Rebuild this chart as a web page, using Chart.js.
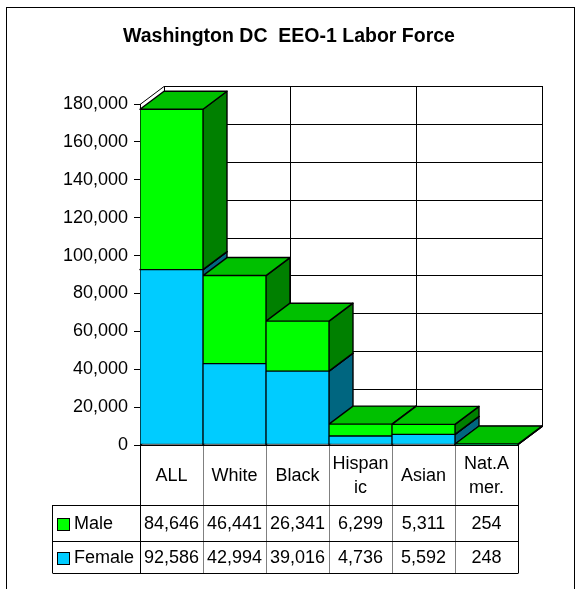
<!DOCTYPE html>
<html>
<head>
<meta charset="utf-8">
<script src="https://cdn.jsdelivr.net/npm/chart.js@4.4.1/dist/chart.umd.min.js"></script>
<style>
  html, body { margin: 0; padding: 0; background: #fff; }
</style>
</head>
<body>
<canvas id="chart" width="580" height="589"></canvas>
<script>
// EEO-1 labor force, Washington DC
const categories = [['ALL'], ['White'], ['Black'], ['Hispan', 'ic'], ['Asian'], ['Nat.A', 'mer.']];
const maleValues = [84646, 46441, 26341, 6299, 5311, 254];
const femaleValues = [92586, 42994, 39016, 4736, 5592, 248];
const seriesNames = ['Male', 'Female'];
const yMax = 180000;
const yStep = 20000;

const frontColors = { Male: '#00FF00', Female: '#00CCFF' };
const sideColors = { Male: '#008000', Female: '#006680' };
const topColors = { Male: '#00C000', Female: '#00A3CC' };

const DX = 24, DY = 18; // depth offset of the 3D boxes

Chart.defaults.font.family = '"Liberation Sans", Arial, sans-serif';
Chart.defaults.font.size = 18;
Chart.defaults.color = '#000';

const fmt = v => Number(v).toLocaleString('en-US');

function poly(ctx, pts, fill){
  ctx.beginPath();
  ctx.moveTo(pts[0][0], pts[0][1]);
  for (let k = 1; k < pts.length; k++) ctx.lineTo(pts[k][0], pts[k][1]);
  ctx.closePath();
  ctx.fillStyle = fill;
  ctx.fill();
  ctx.stroke();
}
function line(ctx, x1, y1, x2, y2){
  ctx.beginPath(); ctx.moveTo(x1, y1); ctx.lineTo(x2, y2); ctx.stroke();
}

// walls, gridlines and the side/top faces of each stacked box
const boxes3d = {
  id: 'boxes3d',
  beforeDatasetsDraw(chart){
    const { ctx, chartArea: a, scales: { x, y } } = chart;
    const cw = x.getPixelForValue(1) - x.getPixelForValue(0);
    ctx.save();
    ctx.strokeStyle = '#000';
    ctx.lineWidth = 1;
    y.ticks.forEach(t => {
      const py = Math.round(y.getPixelForValue(t.value)) + 0.5;
      line(ctx, a.left, py, a.left + DX, py - DY);
      line(ctx, a.left + DX, py - DY, a.right + DX, py - DY);
    });
    for (let i = 0; i <= categories.length; i += 2){
      const px = Math.round(x.getPixelForValue(i) - cw / 2) + 0.5;
      line(ctx, px + DX, a.top - DY, px + DX, a.bottom - DY);
    }
    ctx.lineWidth = 1.4;
    ctx.lineJoin = 'round';
    const metas = [chart.getDatasetMeta(0), chart.getDatasetMeta(1)];
    for (let i = 0; i < categories.length; i++){
      metas.forEach((meta, d) => {
        const name = chart.data.datasets[d].label;
        const el = meta.data[i];
        const x0 = el.x - el.width / 2, x1 = el.x + el.width / 2;
        const yt = el.y, yb = el.base;
        poly(ctx, [[x1, yt], [x1 + DX, yt - DY], [x1 + DX, yb - DY], [x1, yb]], sideColors[name]);
        poly(ctx, [[x0, yt], [x1, yt], [x1 + DX, yt - DY], [x0 + DX, yt - DY]], topColors[name]);
      });
    }
    ctx.restore();
  }
};

// data table under the plot, columns follow the category scale
const dataTable = {
  id: 'dataTable',
  afterDraw(chart){
    const { ctx, chartArea: a, scales: { x } } = chart;
    const cw = x.getPixelForValue(1) - x.getPixelForValue(0);
    const rowTop = [a.bottom, a.bottom + 60, a.bottom + 96, a.bottom + 128];
    const legendLeft = 52.5;
    const right = Math.round(x.getPixelForValue(categories.length - 1) + cw / 2) + 0.5;
    const left = Math.round(a.left) + 0.5;
    ctx.save();
    ctx.lineWidth = 1;
    // inner column separators
    ctx.strokeStyle = '#808080';
    for (let i = 1; i < categories.length; i++){
      const px = Math.round(x.getPixelForValue(i) - cw / 2) + 0.5;
      line(ctx, px, rowTop[0], px, rowTop[3]);
    }
    ctx.strokeStyle = '#000';
    line(ctx, left, rowTop[0], left, rowTop[3]);
    line(ctx, right, rowTop[0], right, rowTop[3]);
    line(ctx, legendLeft, rowTop[1], legendLeft, rowTop[3]);
    line(ctx, left, rowTop[0] + 0.5, right, rowTop[0] + 0.5);
    for (let r = 1; r < 4; r++){
      const py = Math.round(rowTop[r]) + 0.5;
      line(ctx, legendLeft, py, right, py);
    }

    ctx.fillStyle = '#000';
    ctx.font = '18px "Liberation Sans", Arial, sans-serif';
    ctx.textAlign = 'center';
    ctx.textBaseline = 'middle';
    const hdrMid = (rowTop[0] + rowTop[1]) / 2 + 1;
    categories.forEach((lines, i) => {
      const cx = x.getPixelForValue(i);
      lines.forEach((txt, k) => {
        ctx.fillText(txt, cx, hdrMid + (k - (lines.length - 1) / 2) * 24);
      });
    });
    const rows = [maleValues, femaleValues];
    rows.forEach((vals, r) => {
      const cy = (rowTop[r + 1] + rowTop[r + 2]) / 2 + 1;
      ctx.textAlign = 'center';
      vals.forEach((v, i) => ctx.fillText(fmt(v), x.getPixelForValue(i), cy));
      const name = seriesNames[r];
      ctx.fillStyle = frontColors[name];
      ctx.fillRect(57, cy - 6, 12, 12);
      ctx.strokeRect(57.5, cy - 5.5, 12, 12);
      ctx.fillStyle = '#000';
      ctx.textAlign = 'left';
      ctx.fillText(name, 74, cy);
    });

    // outer frame
    ctx.strokeRect(6.5, 7.5, 568, 600);
    ctx.restore();
  }
};

new Chart(document.getElementById('chart'), {
  type: 'bar',
  data: {
    labels: categories,
    datasets: [
      { label: 'Female', data: femaleValues, backgroundColor: frontColors.Female },
      { label: 'Male', data: maleValues, backgroundColor: frontColors.Male }
    ]
  },
  options: {
    responsive: false,
    animation: false,
    events: [],
    layout: { padding: { left: 60, right: 62, top: 0, bottom: 144 } },
    datasets: {
      bar: { barPercentage: 1, categoryPercentage: 1, borderColor: '#000', borderWidth: 1, borderSkipped: false }
    },
    plugins: {
      legend: { display: false },
      tooltip: { enabled: false },
      title: {
        display: true,
        text: 'Washington DC  EEO-1 Labor Force',
        color: '#000',
        font: { size: 19.5, weight: 'bold' },
        padding: { top: 24.5, bottom: 56.1 }
      }
    },
    scales: {
      x: { stacked: true, display: false },
      y: {
        stacked: true,
        min: 0,
        max: yMax,
        ticks: { stepSize: yStep, padding: 6, color: '#000', callback: v => fmt(v) },
        grid: { drawOnChartArea: false, drawTicks: true, tickLength: 6, color: '#000' },
        border: { display: true, color: '#000' },
        afterFit(scale){ scale.width = 80; }
      }
    }
  },
  plugins: [boxes3d, dataTable]
});
</script>
</body>
</html>
